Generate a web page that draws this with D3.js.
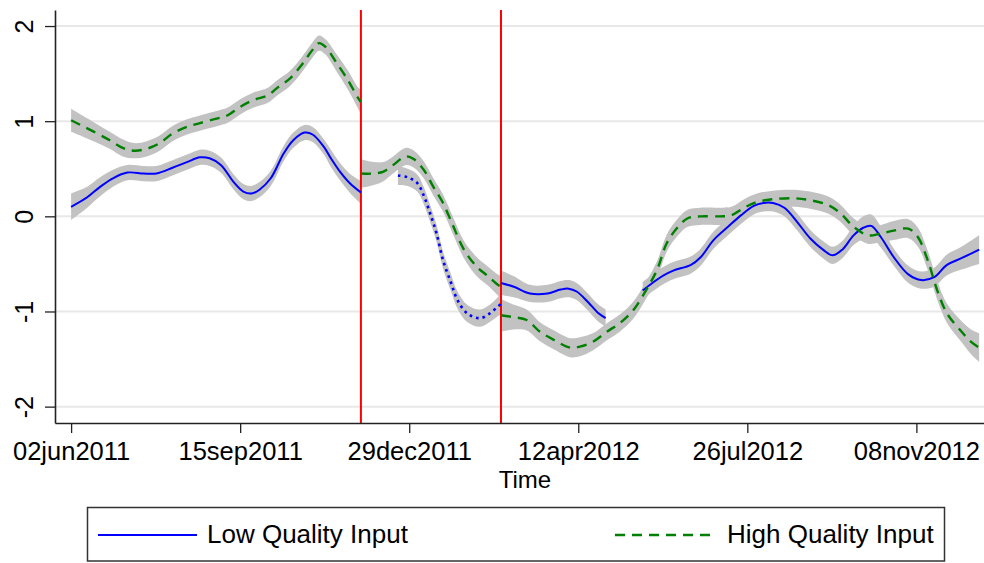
<!DOCTYPE html>
<html>
<head>
<meta charset="utf-8">
<script src="https://cdn.jsdelivr.net/npm/d3@7"></script>
<style>
  body { margin: 0; background: #fff; }
  svg { display: block; font-family: "Liberation Sans", Arial, Helvetica, sans-serif; }
</style>
</head>
<body>
<svg id="chart" width="984" height="563"></svg>
<script>
// ---------------- DATA ----------------
// each row: [date, smoothed value, half-width of confidence band]
const lowPre = [
  ["2011-06-02",0.10,0.14],["2011-06-12",0.20,0.11],["2011-06-20",0.31,0.10],["2011-06-28",0.40,0.09],
  ["2011-07-07",0.46,0.08],["2011-07-17",0.45,0.08],["2011-07-25",0.45,0.08],["2011-08-04",0.51,0.08],
  ["2011-08-13",0.57,0.08],["2011-08-21",0.62,0.08],["2011-08-27",0.61,0.08],["2011-09-03",0.54,0.08],
  ["2011-09-11",0.36,0.08],["2011-09-17",0.26,0.08],["2011-09-22",0.24,0.08],["2011-09-27",0.28,0.08],
  ["2011-10-04",0.40,0.08],["2011-10-12",0.66,0.08],["2011-10-18",0.80,0.08],["2011-10-25",0.88,0.08],
  ["2011-10-30",0.86,0.08],["2011-11-06",0.73,0.08],["2011-11-10",0.62,0.09],["2011-11-16",0.47,0.09],
  ["2011-11-22",0.35,0.10],["2011-11-29",0.25,0.12]
];
const highPre = [
  ["2011-06-02",1.01,0.12],["2011-06-16",0.89,0.10],["2011-06-26",0.80,0.09],["2011-07-04",0.72,0.09],
  ["2011-07-11",0.69,0.08],["2011-07-19",0.71,0.08],["2011-07-27",0.77,0.08],["2011-08-04",0.87,0.08],
  ["2011-08-13",0.94,0.08],["2011-08-21",0.98,0.08],["2011-09-01",1.03,0.08],["2011-09-07",1.06,0.08],
  ["2011-09-15",1.15,0.08],["2011-09-23",1.22,0.08],["2011-10-02",1.27,0.08],["2011-10-08",1.35,0.08],
  ["2011-10-16",1.45,0.08],["2011-10-24",1.61,0.08],["2011-10-30",1.75,0.08],["2011-11-03",1.82,0.08],
  ["2011-11-07",1.78,0.08],["2011-11-14",1.61,0.09],["2011-11-21",1.43,0.10],["2011-11-27",1.25,0.11],
  ["2011-11-29",1.20,0.13]
];
const lowMid = [
  ["2011-12-22",0.43,0.10],["2011-12-28",0.41,0.09],["2012-01-03",0.35,0.09],["2012-01-07",0.22,0.09],
  ["2012-01-11",0.03,0.09],["2012-01-15",-0.18,0.09],["2012-01-19",-0.46,0.09],["2012-01-24",-0.70,0.09],
  ["2012-01-28",-0.88,0.09],["2012-02-03",-1.02,0.09],["2012-02-11",-1.07,0.09],["2012-02-17",-1.02,0.09],
  ["2012-02-22",-0.95,0.10],["2012-02-24",-0.92,0.11]
];
const highMid = [
  ["2011-11-29",0.45,0.15],["2011-12-07",0.45,0.12],["2011-12-13",0.47,0.10],["2011-12-19",0.54,0.09],
  ["2011-12-27",0.63,0.09],["2012-01-01",0.60,0.09],["2012-01-07",0.49,0.09],["2012-01-13",0.31,0.09],
  ["2012-01-19",0.14,0.09],["2012-01-25",-0.09,0.09],["2012-02-01",-0.35,0.09],["2012-02-09",-0.53,0.10],
  ["2012-02-16",-0.63,0.10],["2012-02-22",-0.72,0.11],["2012-02-24",-0.74,0.12]
];
const lowPostA = [
  ["2012-02-24",-0.70,0.13],["2012-03-03",-0.74,0.11],["2012-03-13",-0.81,0.09],["2012-03-24",-0.81,0.09],
  ["2012-04-01",-0.77,0.09],["2012-04-06",-0.76,0.09],["2012-04-11",-0.79,0.09],["2012-04-18",-0.90,0.09],
  ["2012-04-24",-1.01,0.09],["2012-04-29",-1.07,0.09]
];
const lowPostB = [
  ["2012-05-22",-0.78,0.09],["2012-05-28",-0.70,0.09],["2012-06-04",-0.62,0.09],["2012-06-10",-0.57,0.09],
  ["2012-06-21",-0.51,0.09],["2012-06-27",-0.43,0.09],["2012-07-05",-0.25,0.09],["2012-07-14",-0.11,0.09],
  ["2012-07-22",0.01,0.09],["2012-07-30",0.11,0.09],["2012-08-05",0.14,0.09],["2012-08-11",0.14,0.09],
  ["2012-08-18",0.09,0.09],["2012-08-26",-0.06,0.09],["2012-09-03",-0.23,0.09],["2012-09-11",-0.35,0.09],
  ["2012-09-17",-0.41,0.09],["2012-09-23",-0.35,0.09],["2012-09-30",-0.20,0.10],["2012-10-06",-0.12,0.12],
  ["2012-10-11",-0.10,0.12],["2012-10-17",-0.22,0.11],["2012-10-25",-0.43,0.09],["2012-11-03",-0.61,0.09],
  ["2012-11-11",-0.67,0.09],["2012-11-19",-0.64,0.10],["2012-11-27",-0.51,0.11],["2012-12-06",-0.44,0.12],
  ["2012-12-17",-0.35,0.15]
];
const highPost = [
  ["2012-02-24",-1.04,0.17],["2012-03-03",-1.06,0.13],["2012-03-11",-1.09,0.11],["2012-03-19",-1.21,0.10],
  ["2012-03-28",-1.30,0.10],["2012-04-07",-1.38,0.10],["2012-04-13",-1.37,0.10],["2012-04-21",-1.32,0.09],
  ["2012-04-30",-1.21,0.09],["2012-05-08",-1.12,0.09],["2012-05-16",-0.99,0.09],["2012-05-24",-0.78,0.09],
  ["2012-05-31",-0.56,0.09],["2012-06-06",-0.28,0.09],["2012-06-13",-0.11,0.09],["2012-06-19",-0.02,0.09],
  ["2012-06-27",0.00,0.09],["2012-07-09",0.00,0.09],["2012-07-16",0.01,0.09],["2012-07-24",0.09,0.09],
  ["2012-08-01",0.15,0.09],["2012-08-11",0.18,0.09],["2012-08-24",0.19,0.09],["2012-09-03",0.17,0.09],
  ["2012-09-14",0.12,0.09],["2012-09-22",0.03,0.09],["2012-09-30",-0.11,0.09],["2012-10-09",-0.20,0.09],
  ["2012-10-17",-0.18,0.09],["2012-10-25",-0.15,0.10],["2012-11-03",-0.13,0.10],["2012-11-09",-0.22,0.10],
  ["2012-11-15",-0.46,0.10],["2012-11-21",-0.78,0.10],["2012-11-27",-1.02,0.10],["2012-12-06",-1.21,0.11],
  ["2012-12-12",-1.32,0.13],["2012-12-17",-1.38,0.15]
];
const eventDates = ["2011-11-29", "2012-02-24"];
const xTickDates = ["2011-06-02","2011-09-15","2011-12-29","2012-04-12","2012-07-26","2012-11-08"];
const yTicks = [-2, -1, 0, 1, 2];
const yTickLabels = ["-2", "-1", "0", "1", "2"];
const xDomain = ["2011-05-23", "2012-12-20"];
const yDomain = [-2.172, 2.1685];
const legendLabels = ["Low Quality Input", "High Quality Input"];
const xTitle = "Time";

// ---------------- CHART ----------------
const parse = d3.timeParse("%Y-%m-%d");
const svg = d3.select("#chart");
const L = 55, R = 984, T = 10, B = 423;

const x = d3.scaleTime().domain(xDomain.map(parse)).range([L, R]);
const y = d3.scaleLinear().domain(yDomain).range([B, T]);

const rows = arr => arr.map(r => ({ d: parse(r[0]), v: r[1], c: r[2] }));
const curve = d3.curveCatmullRom.alpha(0.5);
const area = d3.area().curve(curve).x(p => x(p.d)).y0(p => y(p.v - p.c)).y1(p => y(p.v + p.c));
const line = d3.line().curve(curve).x(p => x(p.d)).y(p => y(p.v));

// gridlines
svg.append("g").selectAll("line").data(yTicks).join("line")
  .attr("x1", L).attr("x2", R).attr("y1", d => y(d)).attr("y2", d => y(d))
  .attr("stroke", "#e8e8e8").attr("stroke-width", 2);

// confidence bands
const segments = [
  { data: lowPre, kind: "low" }, { data: highPre, kind: "high" },
  { data: lowMid, kind: "lowDot" }, { data: highMid, kind: "high" },
  { data: lowPostA, kind: "low" }, { data: lowPostB, kind: "low" }, { data: highPost, kind: "high" }
];
svg.append("g").selectAll("path").data(segments).join("path")
  .attr("d", s => area(rows(s.data))).attr("fill", "#c2c2c2");

// event lines
svg.append("g").selectAll("line").data(eventDates).join("line")
  .attr("x1", d => x(parse(d))).attr("x2", d => x(parse(d)))
  .attr("y1", T).attr("y2", B).attr("stroke", "#ff0000").attr("stroke-width", 2);

// lines
const styles = {
  low: { stroke: "#0000ff", w: 2, dash: null },
  lowDot: { stroke: "#0000ff", w: 2.6, dash: "2.6,4" },
  high: { stroke: "#008000", w: 2.4, dash: "10,7" }
};
svg.append("g").selectAll("path").data(segments).join("path")
  .attr("d", s => line(rows(s.data)))
  .attr("fill", "none")
  .attr("stroke", s => styles[s.kind].stroke)
  .attr("stroke-width", s => styles[s.kind].w)
  .attr("stroke-dasharray", s => styles[s.kind].dash);

// axes
const fmt = d3.timeFormat("%d%b%Y");
const xAxis = svg.append("g").attr("transform", `translate(0,${B})`)
  .call(d3.axisBottom(x).tickValues(xTickDates.map(parse))
    .tickFormat(d => fmt(d).toLowerCase()).tickSize(10).tickSizeOuter(0));
xAxis.select(".domain").attr("stroke", "#222").attr("stroke-width", 1.6);
xAxis.selectAll(".tick line").attr("stroke", "#222").attr("stroke-width", 1.3);
xAxis.selectAll(".tick text").attr("y", 37).attr("dy", 0)
  .attr("font-size", 25.5).attr("fill", "#000").attr("font-family", "Liberation Sans, Arial, sans-serif");

const yAxis = svg.append("g").attr("transform", `translate(${L},0)`)
  .call(d3.axisLeft(y).tickValues(yTicks).tickFormat((d, i) => yTickLabels[i]).tickSize(10).tickSizeOuter(0));
yAxis.select(".domain").attr("stroke", "#222").attr("stroke-width", 1.6);
yAxis.selectAll(".tick line").attr("stroke", "#222").attr("stroke-width", 1.3);
yAxis.selectAll(".tick text").attr("x", 0).attr("dy", 0)
  .attr("transform", "translate(-22,0) rotate(-90)")
  .attr("text-anchor", "middle")
  .attr("font-size", 25).attr("fill", "#000").attr("font-family", "Liberation Sans, Arial, sans-serif");

// axis title
svg.append("text").attr("x", 525).attr("y", 488).attr("text-anchor", "middle")
  .attr("font-size", 24).attr("fill", "#000").text(xTitle);

// legend
const lg = svg.append("g");
lg.append("rect").attr("x", 87.5).attr("y", 507.5).attr("width", 857).attr("height", 53.5)
  .attr("fill", "#fff").attr("stroke", "#333").attr("stroke-width", 1.5);
const legendItems = [
  { label: legendLabels[0], style: styles.low, x1: 98, x2: 197, tx: 207 },
  { label: legendLabels[1], style: styles.high, x1: 615, x2: 714, tx: 727 }
];
legendItems.forEach(it => {
  lg.append("line").attr("x1", it.x1).attr("x2", it.x2).attr("y1", 535).attr("y2", 535)
    .attr("stroke", it.style.stroke).attr("stroke-width", it.style.w)
    .attr("stroke-dasharray", it.style.dash);
  lg.append("text").attr("x", it.tx).attr("y", 543).attr("font-size", 26)
    .attr("fill", "#000").text(it.label);
});
</script>
</body>
</html>
